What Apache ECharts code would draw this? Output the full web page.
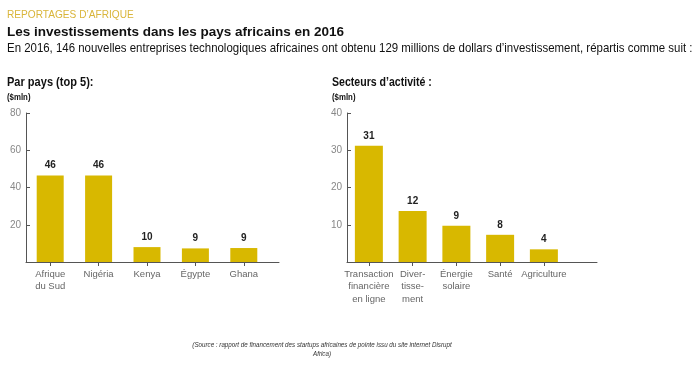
<!DOCTYPE html>
<html><head><meta charset="utf-8">
<script src="https://cdn.jsdelivr.net/npm/echarts@6/dist/echarts.min.js"></script>
<style>html,body{margin:0;padding:0;background:#fff}#c{width:700px;height:369px}</style>
</head><body><div id="c"></div>
<script>
var countryCats = ['Afrique\ndu Sud', 'Nigéria', 'Kenya', 'Égypte', 'Ghana'];
var countryValues = [46.5, 46.5, 8, 7.3, 7.5];
var countryLabels = ['46', '46', '10', '9', '9'];
var sectorCats = ['Transaction\nfinancière\nen ligne', 'Diver-\ntisse-\nment', 'Énergie\nsolaire', 'Santé', 'Agriculture'];
var sectorValues = [31.2, 13.7, 9.7, 7.3, 3.4];
var sectorLabels = ['31', '12', '9', '8', '4'];
var countryTicks = [20, 40, 60, 80];
var sectorTicks = [10, 20, 30, 40];

var FONT = '"Liberation Sans", Arial, sans-serif';
var BAR = '#D8B800';
var AX = '#555555';

function idx(a) { return a.map(function (_, i) { return i; }); }
function pairs(v) { return v.map(function (y, i) { return [i, y]; }); }

function mkX(gi, cats, max) {
  return {
    type: 'value', gridIndex: gi, min: -0.5, max: max,
    splitLine: {show: false},
    axisLine: {onZero: false, lineStyle: {color: AX, width: 1}},
    axisTick: {show: true, customValues: idx(cats), length: 4, lineStyle: {color: AX}},
    axisLabel: {customValues: idx(cats), color: '#666', fontFamily: FONT, fontSize: 9.5, lineHeight: 12.5, margin: 6,
      formatter: function (v) { return cats[Math.round(v)] || ''; }}
  };
}
function mkY(gi, max, interval, ticks) {
  return {
    type: 'value', gridIndex: gi, min: 0, max: max, interval: interval,
    axisLine: {show: true, onZero: false, lineStyle: {color: AX, width: 1}},
    axisTick: {show: true, inside: true, length: 4, customValues: ticks, lineStyle: {color: AX}},
    splitLine: {show: false},
    axisLabel: {customValues: ticks, color: '#888', fontFamily: FONT, fontSize: 10, margin: 5}
  };
}
function mkS(i, vals, labels, w) {
  return {
    type: 'bar', xAxisIndex: i, yAxisIndex: i, data: pairs(vals), barWidth: w,
    itemStyle: {color: BAR},
    label: {show: true, position: 'top', distance: 5, color: '#222', fontFamily: FONT,
      fontWeight: 'bold', fontSize: 10,
      formatter: function (p) { return labels[p.dataIndex]; }}
  };
}
function txt(s, x, y, size, opts) {
  opts = opts || {};
  return {
    type: 'text', x: x, y: y, scaleX: opts.sx || 1, scaleY: 1, originX: 0, originY: 0, silent: true,
    style: {text: s, fill: opts.color || '#111', align: opts.align || 'left', verticalAlign: 'middle',
      font: (opts.italic ? 'italic ' : '') + (opts.bold ? 'bold ' : '') + size + 'px ' + FONT}
  };
}

var chart = echarts.init(document.getElementById('c'), null, {renderer: 'canvas'});
chart.setOption({
  animation: false,
  graphic: [
    txt('REPORTAGES D\u2019AFRIQUE', 7, 15, 11, {color: '#D9B53A', sx: 0.92}),
    txt('Les investissements dans les pays africains en 2016', 7, 32, 13.5, {bold: true, sx: 1.0}),
    txt('En 2016, 146 nouvelles entreprises technologiques africaines ont obtenu 129 millions de dollars d\u2019investissement, répartis comme suit :', 7, 48, 13, {sx: 0.88}),
    txt('Par pays (top 5):', 7, 83, 12, {bold: true, sx: 0.92}),
    txt('($mln)', 7, 98, 9, {bold: true, sx: 0.87}),
    txt('Secteurs d\u2019activité :', 332, 83, 12, {bold: true, sx: 0.88}),
    txt('($mln)', 332, 98, 9, {bold: true, sx: 0.87}),
    txt('(Source : rapport de financement des startups africaines de pointe issu du site internet Disrupt', 322, 345, 7, {italic: true, color: '#333', align: 'center', sx: 0.89}),
    txt('Africa)', 322, 354, 7, {italic: true, color: '#333', align: 'center', sx: 0.89})
  ],
  grid: [
    {left: 26, top: 113, width: 253, height: 149},
    {left: 347, top: 113, width: 250, height: 149}
  ],
  xAxis: [mkX(0, countryCats, -0.5 + 253 / 48.4), mkX(1, sectorCats, -0.5 + 250 / 43.75)],
  yAxis: [mkY(0, 80, 20, countryTicks), mkY(1, 40, 10, sectorTicks)],
  series: [mkS(0, countryValues, countryLabels, 27), mkS(1, sectorValues, sectorLabels, 28)]
});
</script></body></html>
